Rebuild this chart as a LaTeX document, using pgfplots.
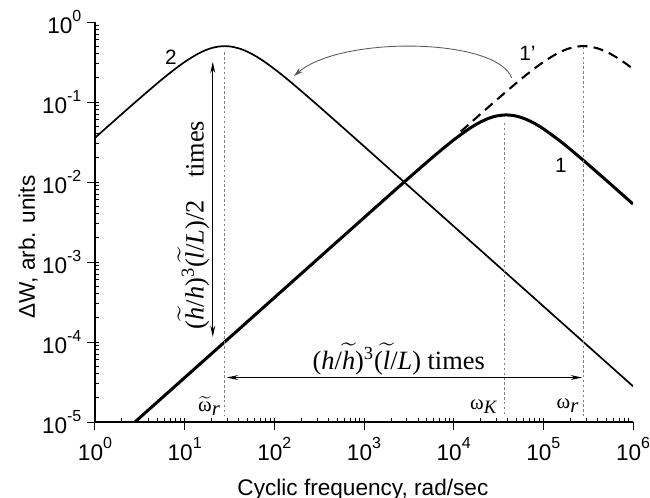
\documentclass[border=0pt,12pt]{standalone}
\usepackage{fontspec}
\setmainfont{Liberation Sans}
\newfontfamily\timesfont{Liberation Serif}
\usepackage{amsmath}
\usepackage{pgfplots}
\pgfplotsset{compat=1.18}
\usetikzlibrary{arrows.meta}
\newcommand{\wt}[1]{\ensuremath{\widetilde{\hbox{#1}}}}
\newcommand{\expsup}[1]{\raisebox{0.52em}{\fontsize{8.5}{10}\selectfont #1}}
\begin{document}
\begin{tikzpicture}
\begin{axis}[
  scale only axis, width=285.6pt, height=212.3pt,
  xmode=log, ymode=log, log basis x=10, log basis y=10,
  xmin=1, xmax=1e6, ymin=1e-5, ymax=1,
  axis lines*=left,
  axis line style={line width=0.6pt},
  tick style={line width=0.5pt, black},
  tick align=outside, major tick length=4pt, minor tick length=-2.2pt,
  xticklabel={10\expsup{\pgfmathparse{int(round(\tick))}\pgfmathresult}},
  yticklabel={10\expsup{\pgfmathparse{int(round(\tick))}\pgfmathresult}},
  yticklabel style={xshift=1pt},
  xlabel={Cyclic frequency, rad/sec},
  ylabel={ΔW, arb. units},
  xlabel style={at={(axis description cs:0.498,-0.17)}, anchor=center},
  ylabel style={at={(axis description cs:-0.124,0.4375)}, anchor=center},
]
% curve 2
\addplot[black, line width=0.9pt, smooth] coordinates {
(1,0.0357) (1.5,0.05342) (2,0.0711) (3,0.1059) (5,0.1731) (7,0.2353) (10,0.3167)
(14,0.4) (17,0.4436) (20,0.4730) (24,0.4941) (28,0.5) (33,0.4933) (40,0.4698)
(47,0.4397) (56,0.4) (66,0.3595) (80,0.3118) (112,0.2353) (160,0.1698) (280,0.0990)
(500,0.05582) (1000,0.02798) (3000,0.009332) (10000,0.0028) (100000,0.00028) (1000000,0.000028)
};
% curve 1'
\addplot[black, line width=1.1pt, smooth, dash pattern=on 5.3pt off 3.3pt] coordinates {
(12000,0.0428) (15000,0.05342) (20000,0.0711) (30000,0.1059) (50000,0.1731) (70000,0.2353)
(100000,0.3167) (140000,0.4) (170000,0.4436) (200000,0.4730) (240000,0.4941) (280000,0.5)
(330000,0.4933) (400000,0.4698) (470000,0.4397) (560000,0.4) (660000,0.3595) (800000,0.3118)
(1000000,0.2596)
};
% curve 1
\addplot[black, line width=1.6pt, smooth] coordinates {
(2,7.17e-6) (10,3.584e-5) (100,3.584e-4) (1000,3.582e-3) (3000,0.010688) (6000,0.020996)
(10000,0.033579) (15000,0.04668) (20000,0.056453) (25000,0.063032) (30000,0.066908)
(38500,0.069) (50000,0.06671) (65000,0.06051) (80000,0.053924) (100000,0.046271)
(150000,0.03323) (200000,0.025616) (300000,0.017423) (500000,0.010563) (700000,0.007567)
(1000000,0.005305)
};
% dotted verticals
\draw[gray, line width=0.4pt, dash pattern=on 1.3pt off 1.3pt] (axis cs:28,0.42) -- (axis cs:28,1.2e-5);
\draw[gray, line width=0.4pt, dash pattern=on 1.3pt off 1.3pt] (axis cs:36500,0.055) -- (axis cs:36500,1.2e-5);
\draw[gray, line width=0.4pt, dash pattern=on 1.3pt off 1.3pt] (axis cs:280000,0.49) -- (axis cs:280000,1.2e-5);
% arrows
\draw[black, line width=0.6pt, {Stealth[length=6pt,width=2.6pt]}-{Stealth[length=6pt,width=2.6pt]}]
  (axis cs:20.6,0.319) -- (axis cs:20.6,1.16e-4);
\draw[black, line width=0.6pt, {Stealth[length=6pt,width=2.6pt]}-{Stealth[length=6pt,width=2.6pt]}]
  (axis cs:29.5,3.6e-5) -- (axis cs:270000,3.6e-5);
\draw[gray!70!black, line width=0.45pt, -{Stealth[length=5pt,width=2.8pt]}]
  (axis cs:44400,0.2) .. controls (axis cs:30100,0.64) and (axis cs:554,0.68) .. (axis cs:165,0.211);
% texts
\node[rotate=90, anchor=base, font=\timesfont\fontsize{14}{16}\selectfont] at (axis cs:16.3,2.9e-3)
  {(\wt{\itshape h}/\textit{h})\textsuperscript{3}(\wt{\itshape l}/\textit{L})/2\hspace{0.6em} times};
\node[anchor=base, font=\timesfont\fontsize{14}{16}\selectfont] at (axis cs:2440,4.56e-5)
  {(\textit{h}/\wt{\itshape h})\textsuperscript{3}(\wt{\itshape l}/\textit{L}) times};
\node[anchor=south east, inner sep=0pt, font=\timesfont\fontsize{11}{12}\selectfont] at (axis cs:25,1.2e-5)
  {\wt{ω}\raisebox{-0.35ex}{\itshape r}};
\node[anchor=south east, inner sep=0pt, font=\timesfont\fontsize{11}{12}\selectfont] at (axis cs:30200,1.26e-5)
  {ω\raisebox{-0.45ex}{\footnotesize\itshape K}};
\node[anchor=south east, inner sep=0pt, font=\timesfont\fontsize{11}{12}\selectfont] at (axis cs:248000,1.31e-5)
  {ω\raisebox{-0.35ex}{\itshape r}};
\node[font=\fontsize{11}{13}\selectfont] at (axis cs:7.04,0.368) {2};
\node[font=\fontsize{11}{13}\selectfont] at (axis cs:66500,0.406) {1'};
\node[font=\fontsize{11}{13}\selectfont] at (axis cs:157000,0.0163) {1};
\end{axis}
\pgfresetboundingbox
\path[use as bounding box] (-50.4pt,-40.3pt) rectangle (294.6pt,224pt);
\end{tikzpicture}
\end{document}
